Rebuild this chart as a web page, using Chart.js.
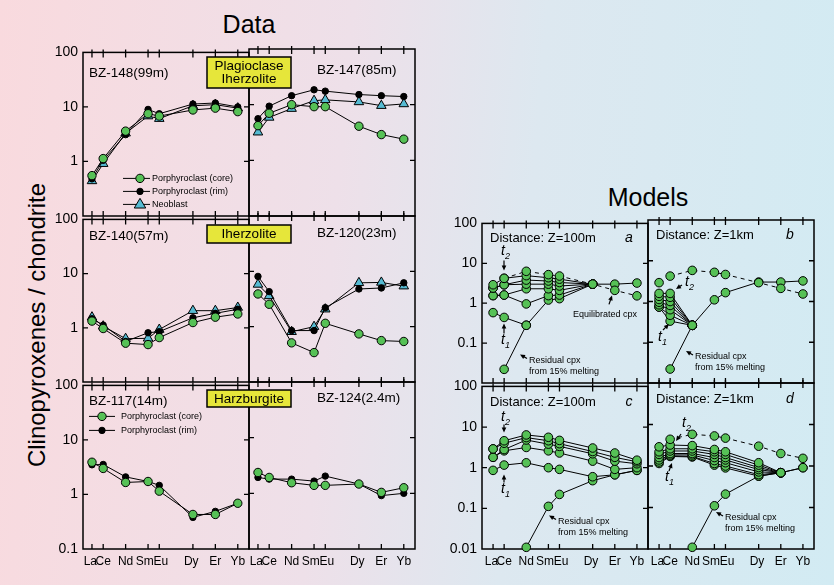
<!DOCTYPE html>
<html>
<head>
<meta charset="utf-8">
<script src="https://cdn.jsdelivr.net/npm/chart.js@4.4.1/dist/chart.umd.min.js"></script>
<style>
html, body { margin: 0; padding: 0; }
body {
  width: 834px; height: 585px; position: relative; overflow: hidden;
  font-family: "Liberation Sans", Arial, sans-serif;
  background: linear-gradient(95deg, #f9dade 0%, #eee0e9 40%, #dde8f0 62%, #d2ebf3 100%);
}
canvas { position: absolute; }
.ttl { position: absolute; font-size: 25px; transform: translateX(-50%); white-space: nowrap; }
#ylab { position: absolute; left: 37px; top: 325px; font-size: 24px; white-space: nowrap;
  transform: translate(-50%, -50%) rotate(-90deg); }
</style>
</head>
<body>
<div class="ttl" style="left:249px;top:10px">Data</div>
<div class="ttl" style="left:648px;top:183px">Models</div>
<div id="ylab">Clinopyroxenes / chondrite</div>
<script>
// REE on the x axis, placed by atomic number
const ELEMENTS = ['La', 'Ce', 'Nd', 'Sm', 'Eu', 'Dy', 'Er', 'Yb'];
const ATOMIC = [57, 58, 60, 62, 63, 66, 68, 70];
// tick label text (spaces nudge crowded labels apart)
const X_LABELS = ['La ', 'Ce', 'Nd', 'Sm  ', ' Eu', 'Dy ', 'Er', 'Yb'];

// Data: porphyroclast core / rim, neoblast
const BZ148_CORE = [0.55, 1.13, 3.6, 7.5, 6.8, 8.8, 9.5, 8.2];
const BZ148_RIM = [0.48, 1.05, 3.1, 9.0, 7.5, 11.3, 11.8, 10.0];
const BZ148_NEO = [0.44, 0.91, 3.3, 6.8, 6.1, 10.5, 11.0, 9.5];
const BZ147_CORE = [4.2, 7.0, 10.0, 9.2, 9.2, 4.1, 2.9, 2.4];
const BZ147_RIM = [5.6, 9.4, 14.5, 18.5, 17.5, 15.2, 14.5, 14.0];
const BZ147_NEO = [3.2, 5.9, 8.5, 11.8, 12.2, 11.2, 9.6, 10.3];
const BZ140_CORE = [1.33, 0.97, 0.52, 0.49, 0.66, 1.25, 1.57, 1.8];
const BZ140_RIM = [1.47, 1.12, 0.56, 0.81, 0.85, 1.53, 1.85, 2.2];
const BZ140_NEO = [1.57, 1.07, 0.63, 0.64, 0.93, 2.07, 2.07, 2.37];
const BZ120_CORE = [3.9, 2.54, 0.51, 0.34, 1.15, 0.74, 0.56, 0.54];
const BZ120_RIM = [8.1, 4.3, 0.85, 0.85, 2.2, 4.8, 5.0, 6.2];
const BZ120_NEO = [5.8, 3.6, 0.81, 1.0, 2.07, 6.2, 6.3, 5.4];
const BZ117_CORE = [3.9, 3.0, 1.66, 1.73, 1.15, 0.43, 0.43, 0.69];
const BZ117_RIM = [3.5, 3.55, 2.1, 1.73, 1.47, 0.38, 0.49, 0.69];
const BZ124_CORE = [2.37, 1.93, 1.55, 1.39, 1.39, 1.47, 1.04, 1.26];
const BZ124_RIM = [1.93, 1.8, 1.8, 1.66, 2.04, 1.47, 0.91, 1.0];

// Models (a: Z=100m, b: Z=1km, c: Z=100m, d: Z=1km)
const MA_LINES = [
  [2.9, 4.2, 4.9, 4.35, 4.0, 3.0, 3.0, 3.2],
  [2.4, 2.9, 3.8, 3.6, 3.3, 3.0, null, null],
  [2.4, 2.9, 3.0, 3.0, 2.7, 3.0, null, null],
  [1.55, 1.6, 2.3, 2.3, 2.1, 3.0, null, null],
  [1.55, 1.6, 0.96, 1.55, 1.6, 3.0, null, null],
  [0.58, 0.44, 0.28, null, null, null, null, null]
];
const MA_RES = [null, 0.022, 0.28, 1.2, 1.3, 3.0, null, null];
const MA_EQ = [null, 4.2, 6.3, 5.2, 4.8, 3.0, 2.1, 1.53];

const MB_LINES = [
  [1.58, 1.58, 0.26, null, null, null, null, null],
  [1.34, 1.27, 0.26, null, null, null, null, null],
  [1.12, 1.0, 0.26, null, null, null, null, null],
  [0.96, 0.8, 0.26, null, null, null, null, null],
  [0.83, 0.63, 0.26, null, null, null, null, null],
  [0.73, 0.46, 0.26, null, null, null, null, null],
  [0.73, 0.33, 0.26, null, null, null, null, null]
];
const MB_RES = [null, 0.022, 0.26, 1.1, 1.65, 3.0, 3.0, 3.2];
const MB_EQ = [null, 4.2, 5.8, 5.2, 4.6, 2.9, 2.1, 1.53];
const MB_LA = [2.9, null, null, null, null, null, null, null];

const MC_LINES = [
  [2.9, 4.6, 6.4, 5.6, 4.7, 3.05, 2.3, 1.53],
  [2.9, 4.0, 5.5, 4.6, 3.9, 2.5, 1.8, 1.4],
  [1.8, 2.8, 4.8, 3.8, 3.35, 2.2, 1.45, 1.25],
  [1.8, 2.6, 3.15, 2.6, 2.3, 1.45, 0.91, 1.0],
  [0.86, 1.16, 1.32, 1.0, 0.91, 0.6, 0.67, 0.86]
];
const MC_RES = [null, null, 0.011, 0.112, 0.22, 0.48, 0.67, 0.86];

const MD_LINES = [
  [2.9, 3.2, 3.1, 2.5, 2.2, 1.2, 0.69, 0.91],
  [2.2, 2.6, 2.6, 2.2, 1.9, 1.05, 0.69, null],
  [1.9, 2.3, 2.3, 1.9, 1.6, 0.92, 0.69, null],
  [1.6, 2.0, 2.0, 1.6, 1.4, 0.82, 0.69, null],
  [1.4, 1.85, 1.85, 1.35, 1.2, 0.72, 0.69, null],
  [1.25, 1.75, 1.7, 1.15, 1.0, 0.62, 0.69, null],
  [1.15, 1.7, 1.65, 1.05, 0.9, 0.57, 0.69, null]
];
const MD_RES = [null, null, 0.011, 0.11, 0.21, 0.57, 0.69, 0.91];
const MD_EQ = [null, 4.4, 5.8, 5.3, 4.7, 3.0, 2.0, 1.53];

const DATA_TICKS = [0.1, 1, 10, 100];
const MODEL_TICKS = [0.01, 0.1, 1, 10, 100];

const GREEN = '#56c156';
const CYAN = '#56bbd3';
const YELLOW = '#e6e63a';
const FONT = '"Liberation Sans", Arial, sans-serif';

const ML = 50, PT = 10, PR = 10, MB = 28;

function pts(vals) {
  return vals.map((v, i) => ({ x: ATOMIC[i], y: v }));
}
function base(vals) {
  return { data: pts(vals), borderColor: '#000', borderWidth: 1, pointBorderColor: '#000',
    pointBorderWidth: 1, clip: false, spanGaps: false };
}
function core(vals, r) {
  return Object.assign(base(vals), { pointStyle: 'circle', pointRadius: r || 4.2, pointBackgroundColor: GREEN });
}
function rim(vals) {
  return Object.assign(base(vals), { pointStyle: 'circle', pointRadius: 3.2, pointBackgroundColor: '#000' });
}
function neo(vals) {
  return Object.assign(base(vals), { pointStyle: 'triangle', pointRadius: 5.5, pointBackgroundColor: CYAN });
}
function eq(vals) {
  return Object.assign(core(vals, 4.3), { borderDash: [4, 4] });
}

function marker(ctx, ds, x, y) {
  const r = ds.pointRadius;
  ctx.save();
  ctx.fillStyle = ds.pointBackgroundColor;
  ctx.strokeStyle = '#000';
  ctx.lineWidth = 1;
  ctx.beginPath();
  if (ds.pointStyle === 'triangle') {
    const s = r * 1.1;
    ctx.moveTo(x, y - s);
    ctx.lineTo(x + s * 0.95, y + s * 0.6);
    ctx.lineTo(x - s * 0.95, y + s * 0.6);
    ctx.closePath();
  } else {
    ctx.arc(x, y, r, 0, Math.PI * 2);
  }
  ctx.fill();
  ctx.stroke();
  ctx.restore();
}

const framePlugin = {
  id: 'frame',
  beforeDatasetsDraw(chart) {
    const { ctx, chartArea: a } = chart;
    const x = chart.scales.x, y = chart.scales.y;
    ctx.save();
    ctx.strokeStyle = '#000';
    ctx.lineWidth = 1.5;
    ctx.strokeRect(a.left, a.top, a.right - a.left, a.bottom - a.top);
    ctx.lineWidth = 1.3;
    ctx.beginPath();
    ATOMIC.forEach(v => {
      const px = x.getPixelForValue(v);
      ctx.moveTo(px, a.top - 3); ctx.lineTo(px, a.top + 5);
      ctx.moveTo(px, a.bottom); ctx.lineTo(px, a.bottom - 5);
    });
    y.ticks.forEach(t => {
      if (t.value <= y.min * 1.001 || t.value >= y.max * 0.999) return;
      const py = y.getPixelForValue(t.value);
      ctx.moveTo(a.left, py); ctx.lineTo(a.left + 5, py);
      ctx.moveTo(a.right, py); ctx.lineTo(a.right - 5, py);
    });
    ctx.stroke();
    ctx.restore();
  }
};

const notesPlugin = {
  id: 'notes',
  afterDraw(chart, args, opts) {
    const ctx = chart.ctx, a = chart.chartArea;
    const L = a.left, T = a.top;
    (opts.items || []).forEach(n => {
      ctx.save();
      ctx.fillStyle = '#000';
      ctx.strokeStyle = '#000';
      ctx.textBaseline = 'middle';
      const kind = n[0];
      if (kind === 'text') {
        ctx.font = (n[6] || '') + ' ' + n[4] + 'px ' + FONT;
        ctx.textAlign = n[5] || 'left';
        ctx.fillText(n[3], L + n[1], T + n[2]);
      } else if (kind === 'box') {
        ctx.fillStyle = YELLOW;
        ctx.fillRect(L + n[1], T + n[2], n[3], n[4]);
        ctx.lineWidth = 1.5;
        ctx.strokeRect(L + n[1], T + n[2], n[3], n[4]);
        ctx.fillStyle = '#000';
        ctx.font = n[6] + 'px ' + FONT;
        ctx.textAlign = 'center';
        const lines = n[5], lh = 12.5;
        const cy = T + n[2] + n[4] / 2 + 0.5;
        lines.forEach((s, i) => {
          ctx.fillText(s, L + n[1] + n[3] / 2, cy + (i - (lines.length - 1) / 2) * lh);
        });
      } else if (kind === 'arrow') {
        const x1 = L + n[1], y1 = T + n[2], x2 = L + n[3], y2 = T + n[4];
        const ang = Math.atan2(y2 - y1, x2 - x1);
        ctx.lineWidth = 1.2;
        ctx.beginPath();
        ctx.moveTo(x1, y1);
        ctx.lineTo(x2 - Math.cos(ang) * 3, y2 - Math.sin(ang) * 3);
        ctx.stroke();
        ctx.beginPath();
        ctx.moveTo(x2, y2);
        ctx.lineTo(x2 - Math.cos(ang) * 5 + Math.sin(ang) * 2.3, y2 - Math.sin(ang) * 5 - Math.cos(ang) * 2.3);
        ctx.lineTo(x2 - Math.cos(ang) * 5 - Math.sin(ang) * 2.3, y2 - Math.sin(ang) * 5 + Math.cos(ang) * 2.3);
        ctx.closePath();
        ctx.fill();
      } else if (kind === 't') {
        ctx.font = 'italic 14px ' + FONT;
        ctx.textAlign = 'center';
        ctx.fillText('t', L + n[1], T + n[2] - 1);
        ctx.font = 'italic 9px ' + FONT;
        ctx.fillText(n[3], L + n[1] + 4.5, T + n[2] + 4);
      } else if (kind === 'leg') {
        const ds = chart.data.datasets[n[6]];
        ctx.lineWidth = 1;
        ctx.beginPath();
        ctx.moveTo(L + n[1], T + n[3]);
        ctx.lineTo(L + n[2], T + n[3]);
        ctx.stroke();
        marker(ctx, ds, L + n[4], T + n[3]);
        ctx.font = '9px ' + FONT;
        ctx.textAlign = 'left';
        ctx.fillText(n[7], L + n[5], T + n[3]);
      }
      ctx.restore();
    });
  }
};

function panel(fr, cfg) {
  const cv = document.createElement('canvas');
  const W = ML + fr.w + PR, H = PT + fr.h + MB;
  cv.width = W; cv.height = H;
  cv.style.left = (fr.l - ML) + 'px';
  cv.style.top = (fr.t - PT) + 'px';
  cv.style.width = W + 'px';
  cv.style.height = H + 'px';
  document.body.appendChild(cv);
  return new Chart(cv.getContext('2d'), {
    type: 'line',
    data: { datasets: cfg.datasets },
    options: {
      responsive: false,
      animation: false,
      devicePixelRatio: 1,
      layout: { padding: { top: PT, right: PR, left: 0, bottom: 0 } },
      plugins: {
        legend: { display: false },
        tooltip: { enabled: false },
        notes: { items: cfg.notes }
      },
      scales: {
        x: {
          type: 'linear', min: cfg.xMin, max: 71,
          grid: { display: false, drawTicks: false }, border: { display: false },
          afterBuildTicks: s => { s.ticks = ATOMIC.map(v => ({ value: v })); },
          afterFit: s => { s.height = MB; },
          ticks: {
            display: !!cfg.xLabels, autoSkip: false, maxRotation: 0, padding: 5,
            color: '#000', font: { family: FONT, size: 12 },
            callback: v => X_LABELS[ATOMIC.indexOf(v)]
          }
        },
        y: {
          type: 'logarithmic', min: cfg.ticks[0], max: cfg.ticks[cfg.ticks.length - 1],
          grid: { display: false, drawTicks: false }, border: { display: false },
          afterBuildTicks: s => { s.ticks = cfg.ticks.map(v => ({ value: v })); },
          afterFit: s => { s.width = ML; },
          ticks: {
            display: !!cfg.yLabels, autoSkip: false, padding: 5,
            color: '#000', font: { family: FONT, size: 14 },
            callback: v => (cfg.yLabels && cfg.yLabels.includes(v)) ? String(v) : ''
          }
        }
      }
    },
    plugins: [framePlugin, notesPlugin]
  });
}

const DX = 56.2, MX = 56.0;
const ROW_LAB = [100, 10, 1];

// ---- Data ----
panel({ l: 83, t: 49, w: 166, h: 167 }, {
  xMin: DX, ticks: DATA_TICKS, yLabels: ROW_LAB,
  datasets: [core(BZ148_CORE), rim(BZ148_RIM), neo(BZ148_NEO)],
  notes: [
    ['text', 6, 21, 'BZ-148(99m)', 13.5],
    ['leg', 40, 67, 126, 57, 69, 0, 'Porphyroclast (core)'],
    ['leg', 40, 67, 139, 57, 69, 1, 'Porphyroclast (rim)'],
    ['leg', 40, 67, 152, 57, 69, 2, 'Neoblast']
  ]
});
panel({ l: 249, t: 49, w: 166, h: 167 }, {
  xMin: DX, ticks: DATA_TICKS,
  datasets: [core(BZ147_CORE), rim(BZ147_RIM), neo(BZ147_NEO)],
  notes: [
    ['text', 68, 21, 'BZ-147(85m)', 13.5],
    ['box', -42, 8, 84, 31, ['Plagioclase', 'Iherzolite'], 13.5]
  ]
});
panel({ l: 83, t: 216, w: 166, h: 166 }, {
  xMin: DX, ticks: DATA_TICKS, yLabels: ROW_LAB,
  datasets: [core(BZ140_CORE), rim(BZ140_RIM), neo(BZ140_NEO)],
  notes: [['text', 6, 17, 'BZ-140(57m)', 13.5]]
});
panel({ l: 249, t: 216, w: 166, h: 166 }, {
  xMin: DX, ticks: DATA_TICKS,
  datasets: [core(BZ120_CORE), rim(BZ120_RIM), neo(BZ120_NEO)],
  notes: [
    ['text', 68, 17, 'BZ-120(23m)', 13.5],
    ['box', -42, 9, 84, 18, ['Iherzolite'], 13.5]
  ]
});
panel({ l: 83, t: 382, w: 166, h: 167 }, {
  xMin: DX, ticks: DATA_TICKS, yLabels: [100, 10, 1, 0.1], xLabels: true,
  datasets: [core(BZ117_CORE), rim(BZ117_RIM)],
  notes: [
    ['text', 6, 16, 'BZ-117(14m)', 13.5],
    ['leg', 6, 32, 31, 19, 38, 0, 'Porphyroclast (core)'],
    ['leg', 6, 32, 45, 19, 38, 1, 'Porphyroclast (rim)']
  ]
});
panel({ l: 249, t: 382, w: 166, h: 167 }, {
  xMin: DX, ticks: DATA_TICKS, xLabels: true,
  datasets: [core(BZ124_CORE), rim(BZ124_RIM)],
  notes: [
    ['text', 68, 16, 'BZ-124(2.4m)', 13.5],
    ['box', -42, 8, 84, 17, ['Harzburgite'], 13.5]
  ]
});

// ---- Models ----
const residualNotes = (x, y) => [
  ['text', x, y, 'Residual cpx', 9],
  ['text', x, y + 11, 'from 15% melting', 9],
  ['arrow', x - 2, y - 2, x - 9, y - 6]
];

panel({ l: 482, t: 220, w: 166, h: 163 }, {
  xMin: MX, ticks: MODEL_TICKS, yLabels: [100, 10, 1, 0.1],
  datasets: [eq(MA_EQ)].concat(MA_LINES.map(v => core(v, 4.3)), [core(MA_RES, 4.3)]),
  notes: [
    ['text', 8, 15, 'Distance: Z=100m', 13],
    ['text', 147, 15, 'a', 14, 'center', 'italic'],
    ['t', 21, 29, '2'], ['arrow', 22, 37, 22, 47],
    ['t', 21, 118, '1'], ['arrow', 22, 110, 22, 100],
    ['text', 123, 91, 'Equilibrated cpx', 9, 'center'], ['arrow', 127, 81, 130, 72]
  ].concat(residualNotes(47, 137))
});
panel({ l: 648, t: 220, w: 166, h: 163 }, {
  xMin: MX, ticks: MODEL_TICKS,
  datasets: [eq(MB_EQ), core(MB_LA, 4.3)].concat(MB_LINES.map(v => core(v, 4.3)), [core(MB_RES, 4.3)]),
  notes: [
    ['text', 8, 15, 'Distance: Z=1km', 13],
    ['text', 142, 15, 'b', 14, 'center', 'italic'],
    ['t', 39, 63, '2'], ['arrow', 34, 65, 28, 69],
    ['t', 12, 118, '1'], ['arrow', 15, 110, 21, 104]
  ].concat(residualNotes(47, 137))
});
panel({ l: 482, t: 383, w: 166, h: 166 }, {
  xMin: MX, ticks: MODEL_TICKS, yLabels: MODEL_TICKS, xLabels: true,
  datasets: MC_LINES.map(v => core(v, 4.3)).concat([core(MC_RES, 4.3)]),
  notes: [
    ['text', 8, 16, 'Distance: Z=100m', 13],
    ['text', 147, 16, 'c', 14, 'center', 'italic'],
    ['t', 21, 32, '2'], ['arrow', 22, 38, 22, 46],
    ['t', 21, 104, '1'], ['arrow', 22, 96, 22, 88]
  ].concat(residualNotes(76, 135))
});
panel({ l: 648, t: 383, w: 166, h: 166 }, {
  xMin: MX, ticks: MODEL_TICKS, xLabels: true,
  datasets: [eq(MD_EQ)].concat(MD_LINES.map(v => core(v, 4.3)), [core(MD_RES, 4.3)]),
  notes: [
    ['text', 8, 16, 'Distance: Z=1km', 13],
    ['text', 142, 16, 'd', 14, 'center', 'italic'],
    ['t', 36, 41, '2'], ['arrow', 33, 51, 28, 58],
    ['t', 19, 95, '1'], ['arrow', 21, 88, 24, 80]
  ].concat(residualNotes(77, 135))
});
</script>
</body>
</html>
